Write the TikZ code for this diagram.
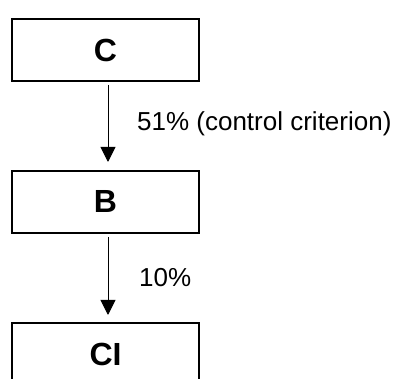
\documentclass[tikz,border=0pt]{standalone}
\usepackage{fontspec}
\setmainfont{Liberation Sans}
\usetikzlibrary{arrows.meta}
\begin{document}
\begin{tikzpicture}[x=1pt,y=-1pt,
  box/.style={draw=black, line width=2pt, minimum width=187pt, minimum height=62pt, inner sep=0pt,
    font=\fontsize{32}{38}\selectfont\bfseries},
  conn/.style={line width=1pt, -{Triangle[width=15pt,length=15pt]}},
  lbl/.style={anchor=base west, inner sep=0pt, font=\fontsize{26}{31}\selectfont}]
\useasboundingbox (0,0) rectangle (400,379);
\clip (0,0) rectangle (400,379);
\node[box] (C) at (105.5,50) {C};
\node[box] (B) at (105.5,202) {\raisebox{2pt}{B}};
\node[box] (CI) at (105.5,354) {CI};
\draw[conn, shorten <=3pt, shorten >=8pt] ([xshift=2.5pt]C.south) -- ([xshift=2.5pt]B.north);
\draw[conn, shorten <=3pt, shorten >=7pt] ([xshift=2.5pt]B.south) -- ([xshift=2.5pt]CI.north);
\node[lbl] (l1) at (137,131) {51\% (control criterion)};
\node[lbl] (l2) at (139,287) {10\%};
\end{tikzpicture}
\end{document}
